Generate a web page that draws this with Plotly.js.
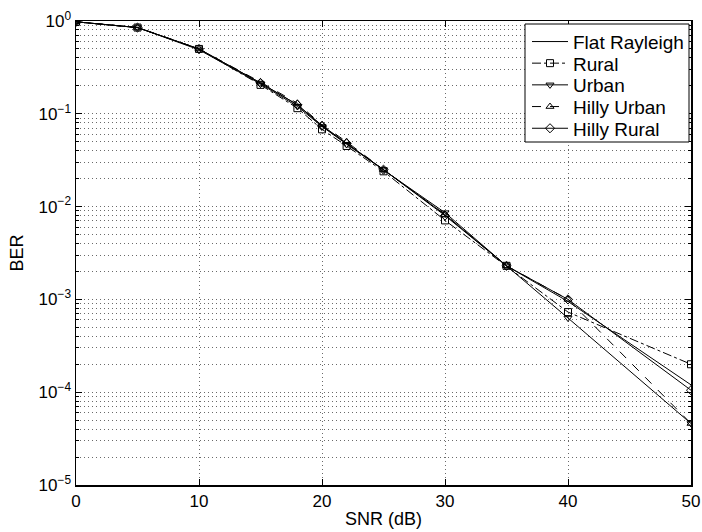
<!DOCTYPE html>
<html>
<head>
<meta charset="utf-8">
<script src="https://cdn.plot.ly/plotly-3.0.1.min.js"></script>
<style>html,body{margin:0;padding:0;background:#fff;}#chart{width:702px;height:532px;}</style>
</head>
<body>
<div id="chart"></div>
<script>
// SNR points (dB)
const snr = [0, 5, 10, 15, 18, 20, 22, 25, 30, 35, 40, 50];
// BER series
const flatRayleigh = [0.98, 0.85, 0.50, 0.215, 0.125, 0.075, 0.048, 0.025, 0.0082, 0.0023, 0.00095, 0.00012];
const rural        = [0.98, 0.85, 0.50, 0.205, 0.115, 0.068, 0.045, 0.024, 0.0071, 0.0023, 0.00073, 0.00020];
const urban        = [0.98, 0.85, 0.49, 0.210, 0.120, 0.073, 0.047, 0.025, 0.0086, 0.0023, 0.00063, 0.000046];
const hillyUrban   = [0.98, 0.85, 0.50, 0.220, 0.130, 0.076, 0.050, 0.025, 0.0082, 0.0023, 0.00100, 0.000046];
const hillyRural   = [0.98, 0.85, 0.50, 0.215, 0.125, 0.074, 0.048, 0.025, 0.0080, 0.0023, 0.00100, 0.000105];
const seriesNames = ["Flat Rayleigh", "Rural", "Urban", "Hilly Urban", "Hilly Rural"];
// tick labels
const yTickVals = [1e-5, 1e-4, 1e-3, 1e-2, 1e-1, 1];
const yTickText = ["10<sup>−5</sup>", "10<sup>−4</sup>", "10<sup>−3</sup>", "10<sup>−2</sup>", "10<sup>−1</sup>", "10<sup>0</sup>"];
const xTickVals = [0, 10, 20, 30, 40, 50];

const line = {color: "black", width: 1};
const mk = (sym) => ({symbol: sym, size: 7, color: "black", line: {color: "black", width: 1}});
const legendIds = ["legend", "legend2", "legend3", "legend4", "legend5"];
const traces = [
  {x: snr, y: flatRayleigh, name: seriesNames[0], mode: "lines", line: Object.assign({}, line, {dash: "solid"})},
  {x: snr, y: rural, name: seriesNames[1], mode: "lines+markers", line: Object.assign({}, line, {dash: "dashdot"}), marker: mk("square-open")},
  {x: snr, y: urban, name: seriesNames[2], mode: "lines+markers", line: Object.assign({}, line, {dash: "solid"}), marker: mk("triangle-down-open")},
  {x: snr, y: hillyUrban, name: seriesNames[3], mode: "lines+markers", line: Object.assign({}, line, {dash: "dash"}), marker: mk("triangle-up-open")},
  {x: snr, y: hillyRural, name: seriesNames[4], mode: "lines+markers", line: Object.assign({}, line, {dash: "solid"}), marker: mk("diamond-open")}
];
traces.forEach((t, i) => { t.legend = legendIds[i]; });

const font = "Liberation Sans, Arial, Helvetica, sans-serif";
const gridc = "#6a6a6a";
const gdash = "1px,3px";
// plot area in pixels: left 76, top 21, width 615, height 464
const plotL = 76, plotT = 21, plotW = 615, plotH = 464;
const px2x = (p) => (p - plotL) / plotW;
const px2y = (p) => 1 - (p - plotT) / plotH;

const layout = {
  width: 702, height: 532,
  margin: {l: 76, r: 11, t: 21, b: 47, pad: 0},
  paper_bgcolor: "white", plot_bgcolor: "white",
  font: {family: font, size: 17, color: "black"},
  showlegend: true,
  xaxis: {
    range: [0, 50], tickvals: xTickVals, ticks: "inside", ticklen: 6, tickcolor: "black",
    showline: true, linecolor: "black", linewidth: 1.5, mirror: "allticks",
    showgrid: true, gridcolor: gridc, griddash: gdash, gridwidth: 1, zeroline: false,
    tickfont: {family: font, size: 17},
    title: {text: "SNR (dB)", font: {family: font, size: 18}, standoff: 2}
  },
  yaxis: {
    type: "log", range: [-5, 0], tickvals: yTickVals, ticktext: yTickText,
    ticks: "inside", ticklen: 6, tickcolor: "black",
    showline: true, linecolor: "black", linewidth: 1.5, mirror: "allticks",
    showgrid: true, gridcolor: gridc, griddash: gdash, gridwidth: 1, zeroline: false,
    minor: {dtick: "D1", ticks: "inside", ticklen: 3, tickcolor: "black", showgrid: true, gridcolor: gridc, griddash: gdash, gridwidth: 1},
    tickfont: {family: font, size: 17},
    title: {text: "BER", font: {family: font, size: 18}, standoff: 10}
  },
  shapes: [{
    type: "rect", xref: "paper", yref: "paper", layer: "above",
    x0: px2x(525), x1: px2x(689), y0: px2y(142), y1: px2y(24),
    fillcolor: "white", line: {color: "black", width: 1}
  }]
};
const rowY = [41.7, 63.3, 85, 106.7, 128.4];
legendIds.forEach((id, i) => {
  layout[id] = {
    x: px2x(527), y: px2y(rowY[i]), xanchor: "left", yanchor: "middle",
    bgcolor: "rgba(0,0,0,0)", borderwidth: 0, itemwidth: 36,
    font: {family: font, size: 19, color: "black"}
  };
});
Plotly.newPlot("chart", traces, layout, {displayModeBar: false, staticPlot: true});
</script>
</body>
</html>
